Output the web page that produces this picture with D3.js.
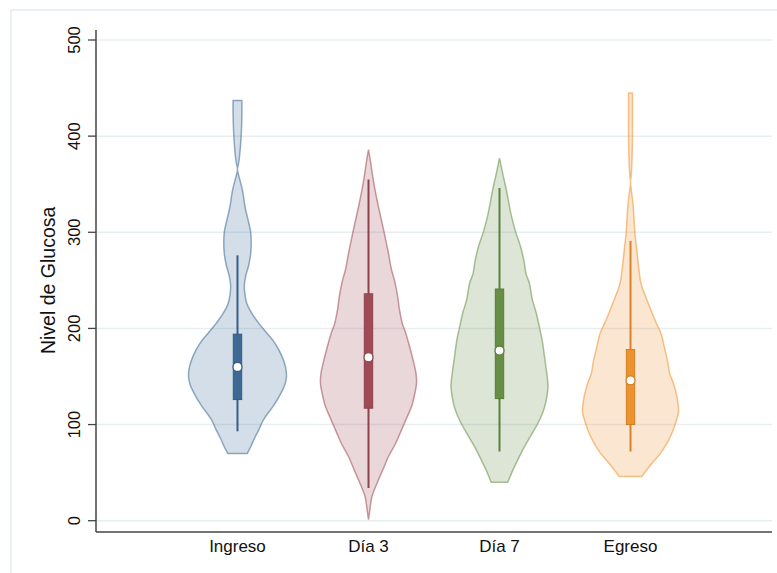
<!DOCTYPE html>
<html>
<head>
<meta charset="utf-8">
<script src="https://cdn.jsdelivr.net/npm/d3@7"></script>
<style>
	body { margin: 0; background: #fff; }
	svg { display: block; font-family: "Liberation Sans", Arial, sans-serif; }
</style>
</head>
<body>
<div id="chart"></div>
<script>

// categories and colours
var groups = ["Ingreso", "Día 3", "Día 7", "Egreso"];
var colors = ["#3d6a94", "#a04a55", "#668f45", "#ee922e"];
var yTicks = [0, 100, 200, 300, 400, 500];

// box stats: lower whisker, q1, median, q3, upper whisker
var boxIngreso = [93, 126, 160, 194, 276];
var boxDia3 = [34, 117, 170, 236, 355];
var boxDia7 = [72, 127, 177, 241, 346];
var boxEgreso = [72, 100, 146, 178, 291];

// density profiles [glucosa, relative density]
var densIngreso = [[70, 0.20], [78, 0.28], [86, 0.35], [95, 0.44], [105, 0.53], [120, 0.74], [132, 0.88], [142, 0.97], [150, 1.00], [160, 0.98], [172, 0.90], [185, 0.76], [195, 0.60], [205, 0.44], [216, 0.29], [226, 0.19], [236, 0.15], [245, 0.14], [255, 0.17], [266, 0.23], [278, 0.27], [290, 0.28], [300, 0.27], [312, 0.22], [325, 0.16], [344, 0.10], [358, 0.03], [365, 0.00], [374, 0.03], [389, 0.06], [405, 0.08], [424, 0.09], [437, 0.09]];
var densDia3 = [[1, 0.00], [12, 0.03], [25, 0.07], [42, 0.20], [55, 0.31], [67, 0.41], [80, 0.55], [94, 0.67], [107, 0.78], [119, 0.88], [131, 0.94], [143, 0.98], [153, 0.97], [165, 0.92], [181, 0.84], [195, 0.76], [205, 0.69], [212, 0.66], [220, 0.63], [235, 0.59], [250, 0.53], [261, 0.47], [280, 0.40], [302, 0.31], [325, 0.21], [345, 0.13], [360, 0.08], [374, 0.04], [386, 0.00]];
var densDia7 = [[40, 0.17], [50, 0.25], [63, 0.37], [77, 0.51], [91, 0.67], [105, 0.82], [118, 0.92], [130, 0.97], [140, 0.99], [155, 0.96], [170, 0.92], [188, 0.87], [200, 0.82], [216, 0.75], [230, 0.67], [247, 0.61], [257, 0.54], [270, 0.50], [285, 0.43], [302, 0.32], [320, 0.23], [344, 0.14], [360, 0.07], [377, 0.00]];
var densEgreso = [[46, 0.23], [58, 0.41], [70, 0.61], [82, 0.76], [94, 0.87], [105, 0.94], [113, 0.98], [125, 0.96], [135, 0.92], [145, 0.86], [153, 0.80], [165, 0.76], [174, 0.72], [185, 0.67], [195, 0.62], [205, 0.53], [216, 0.44], [225, 0.37], [233, 0.31], [242, 0.24], [250, 0.20], [262, 0.17], [271, 0.15], [285, 0.12], [299, 0.09], [315, 0.07], [330, 0.05], [344, 0.015], [352, 0.00], [360, 0.015], [375, 0.03], [400, 0.04], [420, 0.04], [445, 0.04]];

var boxes = [boxIngreso, boxDia3, boxDia7, boxEgreso];
var densities = [densIngreso, densDia3, densDia7, densEgreso];

var W = 777, H = 573;
var plotL = 96, plotR = 772, plotT = 40, plotB = 520.7, axisY = 532;

var svg = d3.select("#chart").append("svg")
	.attr("width", W)
	.attr("height", H);

// outer frame
svg.append("rect")
	.attr("x", 11).attr("y", 10)
	.attr("width", 800).attr("height", 600)
	.attr("fill", "none")
	.attr("stroke", "#e4ecf0")
	.attr("stroke-width", 1.5);

var x = d3.scalePoint()
	.domain(groups)
	.range([plotL, plotR])
	.padding(1.08);

var y = d3.scaleLinear()
	.domain([0, 500])
	.range([plotB, plotT]);

var w = d3.scaleLinear()
	.domain([0, 1])
	.range([0, 49]);

// gridlines
svg.selectAll(".grid")
	.data(yTicks)
	.enter()
	.append("line")
	.attr("class", "grid")
	.attr("x1", plotL)
	.attr("x2", plotR)
	.attr("y1", function(d) {return y(d);})
	.attr("y2", function(d) {return y(d);})
	.attr("stroke", "#e7eef1")
	.attr("stroke-width", 1.5);

// violins
var g = svg.selectAll(".violin")
	.data(groups)
	.enter()
	.append("g")
	.attr("class", "violin");

g.append("path")
	.attr("d", function(d, i) {
		var cx = x(d);
		var area = d3.area()
			.curve(d3.curveCatmullRom.alpha(0.5))
			.y(function(p) {return y(p[0]);})
			.x0(function(p) {return cx - w(p[1]);})
			.x1(function(p) {return cx + w(p[1]);});
		return area(densities[i]);
	})
	.attr("fill", function(d, i) {return colors[i];})
	.attr("fill-opacity", 0.22)
	.attr("stroke", function(d, i) {return colors[i];})
	.attr("stroke-opacity", 0.55)
	.attr("stroke-width", 1.5);

// whiskers
g.append("line")
	.attr("x1", function(d) {return x(d);})
	.attr("x2", function(d) {return x(d);})
	.attr("y1", function(d, i) {return y(boxes[i][0]);})
	.attr("y2", function(d, i) {return y(boxes[i][4]);})
	.attr("stroke", function(d, i) {return d3.color(colors[i]).darker(0.3);})
	.attr("stroke-width", 2);

// boxes
g.append("rect")
	.attr("x", function(d) {return x(d) - 4.2;})
	.attr("y", function(d, i) {return y(boxes[i][3]);})
	.attr("width", 8.4)
	.attr("height", function(d, i) {return y(boxes[i][1]) - y(boxes[i][3]);})
	.attr("fill", function(d, i) {return colors[i];})
	.attr("stroke", function(d, i) {return d3.color(colors[i]).darker(0.4);})
	.attr("stroke-width", 1);

// medians
g.append("circle")
	.attr("cx", function(d) {return x(d);})
	.attr("cy", function(d, i) {return y(boxes[i][2]);})
	.attr("r", 4.5)
	.attr("fill", "#fff")
	.attr("stroke", function(d, i) {return d3.color(colors[i]).darker(0.4);})
	.attr("stroke-width", 1.2);

// axes
svg.append("line")
	.attr("x1", plotL).attr("x2", plotL)
	.attr("y1", 30).attr("y2", axisY)
	.attr("stroke", "#444")
	.attr("stroke-width", 1.5);

svg.append("line")
	.attr("x1", plotL).attr("x2", plotR)
	.attr("y1", axisY).attr("y2", axisY)
	.attr("stroke", "#444")
	.attr("stroke-width", 1.5);

svg.selectAll(".ytick")
	.data(yTicks)
	.enter()
	.append("line")
	.attr("class", "ytick")
	.attr("x1", plotL - 8)
	.attr("x2", plotL)
	.attr("y1", function(d) {return y(d);})
	.attr("y2", function(d) {return y(d);})
	.attr("stroke", "#444")
	.attr("stroke-width", 1.3);

svg.selectAll(".ylabel")
	.data(yTicks)
	.enter()
	.append("text")
	.attr("class", "ylabel")
	.attr("transform", function(d) {return "translate(74," + y(d) + ") rotate(-90)";})
	.attr("text-anchor", "middle")
	.attr("dominant-baseline", "central")
	.style("font-size", "16.5px")
	.style("fill", "#111")
	.text(function(d) {return d;});

svg.selectAll(".xlabel")
	.data(groups)
	.enter()
	.append("text")
	.attr("class", "xlabel")
	.attr("x", function(d) {return x(d);})
	.attr("y", 552)
	.attr("text-anchor", "middle")
	.style("font-size", "17px")
	.style("fill", "#111")
	.text(function(d) {return d;});

svg.append("text")
	.attr("transform", "translate(47.5," + ((plotT + plotB) / 2) + ") rotate(-90)")
	.attr("text-anchor", "middle")
	.attr("dominant-baseline", "central")
	.style("font-size", "19.5px")
	.style("fill", "#111")
	.text("Nivel de Glucosa");

</script>
</body>
</html>
